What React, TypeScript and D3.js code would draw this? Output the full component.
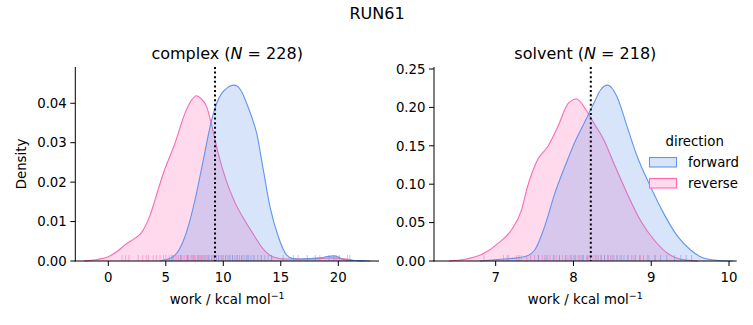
import React from 'react';
import * as d3 from 'd3';

// ---- data ----
const complexReverseX = [-2.11, -1.72, -0.93, 0.0, 0.75, 1.45, 2.32, 2.83, 3.19, 3.62, 4.06, 4.78, 5.8, 6.67, 7.17, 7.69, 8.06, 8.56, 9.05, 9.56, 10.24, 11.02, 11.82, 12.61, 13.48, 14.35, 15.37, 16.86, 18.34, 19.52, 20.31, 21.3, 22.29];
const complexReverseY = [0, 0.0001, 0.0004, 0.0011, 0.0024, 0.0041, 0.0058, 0.007, 0.0087, 0.0115, 0.0155, 0.0222, 0.0299, 0.0375, 0.0405, 0.0419, 0.0412, 0.0391, 0.0337, 0.0273, 0.0205, 0.0148, 0.0105, 0.0068, 0.003, 0.001, 0.0005, 0.0005, 0.0006, 0.0008, 0.0006, 0.0002, 0];
const complexForwardX = [4.51, 4.93, 5.4, 5.8, 6.24, 6.67, 7.1, 7.54, 8.26, 8.99, 9.45, 9.86, 10.43, 10.87, 11.22, 11.62, 12.03, 12.51, 12.9, 13.48, 14.06, 14.78, 15.51, 16.07, 16.66, 17.55, 18.41, 19.03, 19.56, 20.02, 20.41, 21.1, 21.89, 22.78];
const complexForwardY = [0, 0.0003, 0.0007, 0.0015, 0.0033, 0.0062, 0.0103, 0.0155, 0.0256, 0.0358, 0.0402, 0.0425, 0.0441, 0.0446, 0.0443, 0.0428, 0.04, 0.0362, 0.0324, 0.0231, 0.0138, 0.0062, 0.0015, 0.0006, 0.0005, 0.0006, 0.0008, 0.0011, 0.0013, 0.001, 0.0004, 0.0002, 0.0001, 0];

const solventReverseX = [6.4, 6.6, 6.85, 7.03, 7.2, 7.33, 7.41, 7.54, 7.67, 7.8, 7.93, 8.04, 8.16, 8.26, 8.39, 8.52, 8.69, 8.86, 9.04, 9.21, 9.38, 9.6];
const solventReverseY = [0, 0.0022, 0.01, 0.023, 0.04, 0.066, 0.097, 0.132, 0.149, 0.175, 0.205, 0.211, 0.197, 0.18, 0.158, 0.127, 0.088, 0.053, 0.027, 0.01, 0.0022, 0];
const solventForwardX = [6.8, 7.07, 7.37, 7.5, 7.63, 7.76, 7.89, 8.01, 8.14, 8.26, 8.35, 8.44, 8.56, 8.69, 8.82, 8.99, 9.16, 9.34, 9.51, 9.68, 9.9, 10.05];
const solventForwardY = [0, 0.0022, 0.0056, 0.014, 0.045, 0.088, 0.123, 0.153, 0.18, 0.205, 0.223, 0.229, 0.214, 0.175, 0.136, 0.097, 0.062, 0.032, 0.014, 0.0035, 0.0004, 0];

const complexRugReverse = [1.2, 1.5, 1.8, 2.6, 3.0, 3.3, 3.5, 3.9, 4.2, 4.5, 4.8, 5.0, 5.3, 5.5, 5.7, 5.9, 6.1, 6.3, 6.4, 6.6, 6.8, 6.9, 7.0, 7.2, 7.3, 7.5, 7.6, 7.8, 7.9, 8.0, 8.2, 8.3, 8.5, 8.6, 8.8, 9.0, 9.2, 9.4, 9.6, 9.9, 10.2, 10.5, 10.8, 11.2, 11.6, 12.1, 12.6, 13.3, 14.2, 16.5, 18.4, 19.8, 20.8];
const complexRugForward = [5.6, 6.3, 6.9, 7.4, 7.8, 8.1, 8.4, 8.7, 9.0, 9.2, 9.4, 9.6, 9.8, 10.0, 10.2, 10.4, 10.6, 10.8, 11.0, 11.2, 11.4, 11.6, 11.8, 12.0, 12.2, 12.4, 12.7, 13.0, 13.3, 13.6, 13.9, 14.2, 15.2, 16.1, 17.3, 18.0, 19.2, 19.6, 20.1, 21.0];
const solventRugReverse = [6.85, 7.1, 7.17, 7.27, 7.33, 7.4, 7.45, 7.5, 7.55, 7.6, 7.63, 7.67, 7.7, 7.74, 7.78, 7.82, 7.86, 7.9, 7.93, 7.96, 8.0, 8.03, 8.06, 8.1, 8.13, 8.17, 8.2, 8.25, 8.3, 8.35, 8.4, 8.45, 8.5, 8.56, 8.62, 8.7, 8.78, 8.86, 8.95, 9.05];
const solventRugForward = [7.15, 7.3, 7.55, 7.65, 7.75, 7.82, 7.9, 7.97, 8.02, 8.08, 8.12, 8.18, 8.22, 8.28, 8.32, 8.36, 8.4, 8.44, 8.48, 8.52, 8.56, 8.6, 8.65, 8.7, 8.75, 8.8, 8.85, 8.9, 8.97, 9.05, 9.12, 9.2, 9.3, 9.38, 9.45, 9.52];

const complexTicksX = [0, 5, 10, 15, 20];
const complexTicksY = [0, 0.01, 0.02, 0.03, 0.04];
const solventTicksX = [7, 8, 9, 10];
const solventTicksY = [0, 0.05, 0.1, 0.15, 0.2, 0.25];
const complexMean = 9.28;
const solventMean = 8.223;
const legendLabels = ['forward', 'reverse'];

const BLUE = '#6495ed';
const PINK = '#ff69b4';
const FONT = 'DejaVu Sans, sans-serif';

type Series = { xs: number[]; ys: number[]; rug: number[]; color: string };

function Panel(props: {
  left: number; right: number; top: number; bottom: number;
  xDomain: [number, number]; yDomain: [number, number];
  xTicks: number[]; yTicks: number[]; name: string; n: number;
  series: Series[]; mean: number; yLabel?: boolean;
}) {
  const { left, right, top, bottom } = props;
  const x = d3.scaleLinear().domain(props.xDomain).range([left, right]);
  const y = d3.scaleLinear().domain(props.yDomain).range([bottom, top]);
  const area = d3.area<[number, number]>().x(d => x(d[0])).y0(y(0)).y1(d => y(d[1])).curve(d3.curveMonotoneX);
  const line = d3.line<[number, number]>().x(d => x(d[0])).y(d => y(d[1])).curve(d3.curveMonotoneX);
  const cx = (left + right) / 2;
  return (
    <g>
      {props.series.map((s, i) => {
        const pts = s.xs.map((v, j) => [v, s.ys[j]] as [number, number]);
        return (
          <g key={i}>
            <path d={area(pts) || ''} fill={s.color} fillOpacity={0.25} stroke="none" />
            <path d={line(pts) || ''} fill="none" stroke={s.color} strokeWidth={1.1} />
          </g>
        );
      })}
      {props.series.map((s, i) => (
        <g key={'r' + i}>
          {s.rug.map((v, j) => (
            <line key={j} x1={x(v)} x2={x(v)} y1={bottom} y2={bottom - 6} stroke={s.color} strokeOpacity={0.5} strokeWidth={1} />
          ))}
        </g>
      ))}
      <line x1={x(props.mean)} x2={x(props.mean)} y1={top} y2={bottom} stroke="#000" strokeWidth={2} strokeDasharray="2,2.6" />
      {/* spines */}
      <line x1={left} x2={left} y1={top} y2={bottom + 0.5} stroke="#000" strokeWidth={1} />
      <line x1={left - 0.5} x2={right} y1={bottom} y2={bottom} stroke="#000" strokeWidth={1} />
      {props.xTicks.map(t => (
        <g key={'x' + t}>
          <line x1={x(t)} x2={x(t)} y1={bottom} y2={bottom + 5} stroke="#000" strokeWidth={1} />
          <text x={x(t)} y={bottom + 20.5} textAnchor="middle" fontSize={13.3} fontFamily={FONT} fill="#000">{t}</text>
        </g>
      ))}
      {props.yTicks.map(t => (
        <g key={'y' + t}>
          <line x1={left - 5} x2={left} y1={y(t)} y2={y(t)} stroke="#000" strokeWidth={1} />
          <text x={left - 8.5} y={y(t)} dy="0.36em" textAnchor="end" fontSize={13.3} fontFamily={FONT} fill="#000">{d3.format('.2f')(t)}</text>
        </g>
      ))}
      <text x={cx} y={top - 8} textAnchor="middle" fontSize={16} fontFamily={FONT} fill="#000">
        {props.name + ' ('}<tspan fontStyle="italic">N</tspan>{' = ' + props.n + ')'}
      </text>
      <text x={cx} y={bottom + 43} textAnchor="middle" fontSize={13.3} fontFamily={FONT} fill="#000">
        work / kcal mol<tspan fontSize={9.5} dy={-5.5}>−1</tspan>
      </text>
      {props.yLabel && (
        <text transform={`translate(${left - 49},${(top + bottom) / 2}) rotate(-90)`} textAnchor="middle" fontSize={13.3} fontFamily={FONT} fill="#000">Density</text>
      )}
    </g>
  );
}

export default function App() {
  const top = 67, bottom = 261;
  return (
    <svg width={753} height={325} style={{ position: 'absolute', left: 0, top: 0, background: '#fff' }}>
      <rect width={753} height={325} fill="#fff" />
      <text x={377} y={19} textAnchor="middle" fontSize={16} fontFamily={FONT} fill="#000">RUN61</text>
      <Panel left={75.3} right={379} top={top} bottom={bottom} xDomain={[-2.87, 23.54]} yDomain={[0, 0.0492]}
        xTicks={complexTicksX} yTicks={complexTicksY} name="complex" n={228} mean={complexMean} yLabel
        series={[
          { xs: complexReverseX, ys: complexReverseY, rug: complexRugReverse, color: PINK },
          { xs: complexForwardX, ys: complexForwardY, rug: complexRugForward, color: BLUE },
        ]} />
      <Panel left={434} right={736.7} top={top} bottom={bottom} xDomain={[6.207, 10.099]} yDomain={[0, 0.2526]}
        xTicks={solventTicksX} yTicks={solventTicksY} name="solvent" n={218} mean={solventMean}
        series={[
          { xs: solventReverseX, ys: solventReverseY, rug: solventRugReverse, color: PINK },
          { xs: solventForwardX, ys: solventForwardY, rug: solventRugForward, color: BLUE },
        ]} />
      <g>
        <text x={694.7} y={146} textAnchor="middle" fontSize={13.3} fontFamily={FONT} fill="#000">direction</text>
        {legendLabels.map((l, i) => {
          const c = i === 0 ? BLUE : PINK;
          const yy = 157.5 + i * 21;
          return (
            <g key={l}>
              <rect x={649.5} y={yy} width={27} height={9.5} fill="#fff" />
              <rect x={649.5} y={yy} width={27} height={9.5} fill={c} fillOpacity={0.25} stroke={c} strokeWidth={1.1} />
              <text x={688} y={yy + 9} fontSize={13.3} fontFamily={FONT} fill="#000">{l}</text>
            </g>
          );
        })}
      </g>
    </svg>
  );
}
